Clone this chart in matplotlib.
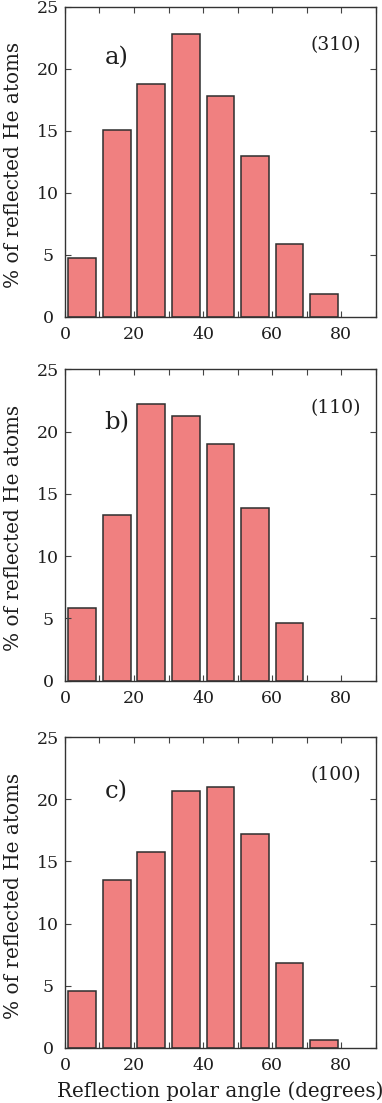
import matplotlib
matplotlib.use('Agg')
import matplotlib.pyplot as plt
import numpy as np

plt.rcParams['font.family'] = 'DejaVu Serif'

angles = [5, 15, 25, 35, 45, 55, 65, 75]  # bin centres (degrees)
surf_310 = [4.7, 15.05, 18.75, 22.85, 17.85, 13.0, 5.9, 1.85]
surf_110 = [5.8, 13.3, 22.25, 21.25, 19.0, 13.9, 4.65, 0.0]
surf_100 = [4.6, 13.5, 15.8, 20.65, 21.0, 17.2, 6.8, 0.6]

panels = [('a)', '(310)', surf_310, 0.835, 0.877),
          ('b)', '(110)', surf_110, 0.830, 0.876),
          ('c)', '(100)', surf_100, 0.825, 0.879)]

# axes boxes in figure fractions: left, bottom, width, height
boxes = [(0.170, 0.7129, 0.814, 0.2808),
         (0.170, 0.3829, 0.814, 0.2823),
         (0.170, 0.0501, 0.814, 0.2815)]

txt = '#1e1e1e'
fig = plt.figure(figsize=(3.82, 11.03), dpi=100)

for (tag, surf, vals, ty, sy), box in zip(panels, boxes):
    ax = fig.add_axes(box)
    # empty bins are not drawn at all
    xs = [a for a, v in zip(angles, vals) if v > 0]
    hs = [v for v in vals if v > 0]
    ax.bar(xs, hs, width=8, color='#f08080', edgecolor='#2e2e2e', linewidth=1.1)
    ax.set_xlim(0, 90)
    ax.set_ylim(0, 25)
    xt = np.arange(0, 91, 10)
    ax.set_xticks(xt)
    ax.set_xticklabels([str(v) if v % 20 == 0 and v < 90 else '' for v in xt])
    ax.set_yticks(np.arange(0, 26, 5))
    ax.tick_params(direction='in', top=True, right=True, length=4.5, width=0.8,
                   color='#444444', labelsize=12.5, labelcolor=txt)
    ax.tick_params(axis='x', pad=7)
    ax.tick_params(axis='y', pad=12)
    for lab in ax.get_yticklabels():
        lab.set_horizontalalignment('center')
    for sp in ax.spines.values():
        sp.set_color('#333333')
        sp.set_linewidth(1.0)
    ax.set_ylabel('% of reflected He atoms', fontsize=14.4, color=txt)
    ax.yaxis.set_label_coords(-0.135, 0.49)
    ax.text(0.128, ty, tag, transform=ax.transAxes, fontsize=17.5, color=txt,
            va='center', ha='left')
    ax.text(0.953, sy, surf, transform=ax.transAxes, fontsize=13.5, color=txt,
            va='center', ha='right')

ax.set_xlabel('Reflection polar angle (degrees)', fontsize=14.3, color=txt, labelpad=5)

fig.savefig('out.png', dpi=100)
